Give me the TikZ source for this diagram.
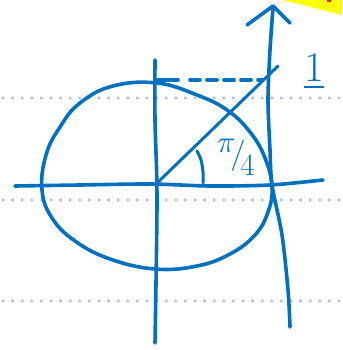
\documentclass[tikz,border=0pt]{standalone}
\usepackage{amsmath,amssymb}
\usetikzlibrary{positioning,calc}
\definecolor{InkBlue}{RGB}{0,112,192}
\definecolor{RuleBlue}{RGB}{172,190,226}
\definecolor{MarkYellow}{RGB}{255,255,0}
\definecolor{MarkRed}{RGB}{230,30,30}
\tikzset{
  ink/.style={draw=InkBlue,line width=3.6pt,line cap=round,line join=round},
  rule/.style={draw=RuleBlue,line width=3.4pt,line cap=round,dash pattern=on 0pt off 9.6pt},
  inklabel/.style={text=InkBlue,inner sep=0pt,font=\Huge},
}
\begin{document}
\begin{tikzpicture}[x=1pt,y=-1pt]
    \useasboundingbox (0,0) rectangle (342,350);
    % ruled paper
    \foreach \r in {98,200,301} {\draw[rule] (3,\r)--(342,\r);}
    \fill[MarkYellow] (283,0)--(342,0)--(342,15)--cycle;
    \fill[MarkRed] (327,0) rectangle (331,2);
    % axes
    \coordinate (O) at (155,185);
    \draw[ink] plot[smooth] coordinates {(15,186) (80,185) (150,184) (210,186) (270,185) (323,180)};
    \draw[ink] plot[smooth] coordinates {(155,60) (155,120) (157,200) (155,343)};
    % circle
    \draw[ink] plot[smooth cycle,tension=0.7] coordinates {(157,83) (197,95) (227,110) (250,132)
      (265,158) (272,187) (268,212) (255,235) (230,254) (197,266) (155,269) (110,259) (75,241)
      (52,218) (42,190) (46,155) (60,127) (80,103) (113,86)};
    % tangent line with arrow
    \coordinate (Tt) at (273,6);
    \draw[ink] plot[smooth] coordinates {(290,327) (288,290) (282,235) (272,185) (270,150) (268,100) (270,50) (273,8)};
    \draw[ink] (247,25)--(Tt)--(290,23);
    % ray at pi/4 and projection
    \coordinate (P) at (262,80);
    \coordinate (R) at (278,66);
    \draw[ink,line width=3pt] (O)--(R);
    \draw[ink] (157,80)--(178,80);
    \draw[ink,dash pattern=on 10pt off 7pt] (190,80)--(P);
    % angle mark
    \draw[ink,line width=3pt] plot[smooth] coordinates {(197,151) (201,160) (203,172) (203,183)};
    \node[inklabel] (ang) at (236,157) {\scalebox{1.25}{$\raisebox{9pt}{$\pi$}\!/\!\raisebox{-9.5pt}{$4$}$}};
    \node[inklabel] (one) at (314,72) {\scalebox{1.7}{$\underline{1}$}};
  \end{tikzpicture}
\end{document}
